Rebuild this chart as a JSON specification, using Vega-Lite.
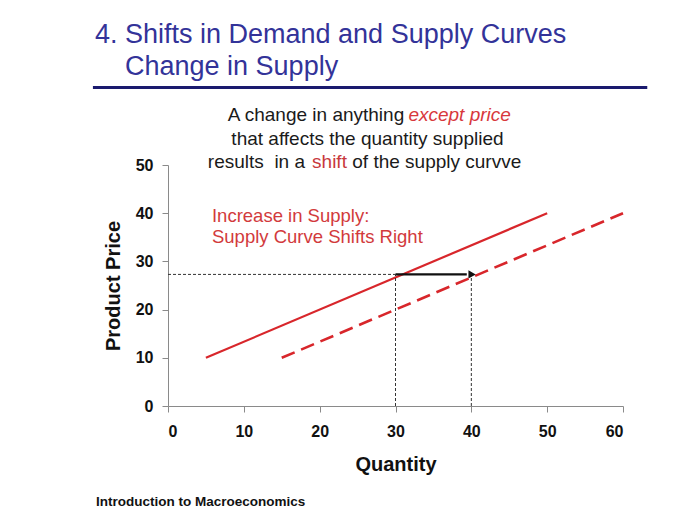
{
  "$schema": "https://vega.github.io/schema/vega-lite/v6.json",
  "autosize": {"type": "none"},
  "width": 455,
  "height": 241,
  "padding": {"left": 168, "top": 165, "right": 77, "bottom": 119},
  "background": "white",
  "config": {"view": {"stroke": null}, "font": "Liberation Sans"},
  "datasets": {
    "supply": [
      {"q": 5, "p": 10, "curve": "S1"},
      {"q": 50, "p": 40, "curve": "S1"},
      {"q": 15, "p": 10, "curve": "S2"},
      {"q": 60, "p": 40, "curve": "S2"}
    ],
    "guides": [
      {"x": 0, "x2": 30, "y": 27.3, "y2": 27.3},
      {"x": 30, "x2": 30, "y": 0, "y2": 27.3},
      {"x": 40, "x2": 40, "y": 0, "y2": 27.3}
    ],
    "arrow": [{"x": 30, "x2": 39.4, "y": 27.3}],
    "arrowhead": [{"x": 40.1, "y": 27.3}],
    "underline": [{"x": -9.9, "x2": 63.2, "y": 66.1}],
    "titles": [
      {"x": -9.63, "y": 75.25, "text": "4. Shifts in Demand and Supply Curves"},
      {"x": -5.67, "y": 68.67, "text": "Change in Supply"}
    ],
    "notesRight": [
      {"x": 31.15, "y": 59.1, "text": "A change in anything"},
      {"x": 18.07, "y": 49.4, "text": "results \u00a0in a"}
    ],
    "notesItalic": [
      {"x": 31.7, "y": 59.1, "text": "except price"}
    ],
    "notesRed": [
      {"x": 19.0, "y": 49.4, "text": "shift"}
    ],
    "notesLeft": [
      {"x": 24.3, "y": 49.4, "text": "of the supply curvve"}
    ],
    "notesCenter": [
      {"x": 26.3, "y": 54.1, "text": "that affects the quantity supplied"}
    ],
    "redtext": [
      {"x": 5.8, "y": 38.2, "text": "Increase in Supply:"},
      {"x": 5.8, "y": 33.75, "text": "Supply Curve Shifts Right"}
    ],
    "footer": [{"x": -9.5, "y": -20.7, "text": "Introduction to Macroeconomics"}]
  },
  "layer": [
    {
      "data": {"name": "supply"},
      "transform": [{"filter": "datum.curve === 'S1'"}],
      "mark": {"type": "line", "color": "#d8262b", "strokeWidth": 2.2},
      "encoding": {
        "x": {
          "field": "q", "type": "quantitative",
          "scale": {"domain": [0, 60], "nice": false},
          "axis": {
            "title": "Quantity", "values": [0, 10, 20, 30, 40, 50, 60],
            "grid": false, "domainColor": "#8a8a8a", "tickColor": "#8a8a8a",
            "tickSize": 6, "labelPadding": 11, "labelFontSize": 16, "labelFontWeight": "bold",
            "labelColor": "#111", "titleFontSize": 20, "titleFontWeight": "bold",
            "titleColor": "#111", "titlePadding": 15, "labelFont": "Liberation Sans", "titleFont": "Liberation Sans"
          }
        },
        "y": {
          "field": "p", "type": "quantitative",
          "scale": {"domain": [0, 50], "nice": false},
          "axis": {
            "title": "Product Price", "values": [0, 10, 20, 30, 40, 50],
            "grid": false, "domainColor": "#8a8a8a", "tickColor": "#8a8a8a",
            "tickSize": 6, "labelPadding": 9, "labelFontSize": 16, "labelFontWeight": "bold",
            "labelColor": "#111", "titleFontSize": 20, "titleFontWeight": "bold",
            "titleColor": "#111", "titlePadding": 12, "labelFont": "Liberation Sans", "titleFont": "Liberation Sans"
          }
        }
      }
    },
    {
      "data": {"name": "supply"},
      "transform": [{"filter": "datum.curve === 'S2'"}],
      "mark": {"type": "line", "color": "#d8262b", "strokeWidth": 2.6, "strokeDash": [14, 7]},
      "encoding": {
        "x": {"field": "q", "type": "quantitative"},
        "y": {"field": "p", "type": "quantitative"}
      }
    },
    {
      "data": {"name": "guides"},
      "mark": {"type": "rule", "color": "#333", "strokeWidth": 1, "strokeDash": [3, 2]},
      "encoding": {
        "x": {"field": "x", "type": "quantitative"},
        "x2": {"field": "x2"},
        "y": {"field": "y", "type": "quantitative"},
        "y2": {"field": "y2"}
      }
    },
    {
      "data": {"name": "arrow"},
      "mark": {"type": "rule", "color": "#111", "strokeWidth": 2.2},
      "encoding": {
        "x": {"field": "x", "type": "quantitative"},
        "x2": {"field": "x2"},
        "y": {"field": "y", "type": "quantitative"}
      }
    },
    {
      "data": {"name": "arrowhead"},
      "mark": {"type": "point", "shape": "triangle-right", "filled": true, "color": "#111", "size": 70, "opacity": 1},
      "encoding": {
        "x": {"field": "x", "type": "quantitative"},
        "y": {"field": "y", "type": "quantitative"}
      }
    },
    {
      "data": {"name": "underline"},
      "mark": {"type": "rule", "color": "#1a1a6e", "strokeWidth": 3},
      "encoding": {
        "x": {"field": "x", "type": "quantitative"},
        "x2": {"field": "x2"},
        "y": {"field": "y", "type": "quantitative"}
      }
    },
    {
      "data": {"name": "titles"},
      "mark": {"type": "text", "fontSize": 27, "baseline": "alphabetic", "align": "left", "color": "#333399", "font": "Liberation Sans"},
      "encoding": {
        "x": {"field": "x", "type": "quantitative"},
        "y": {"field": "y", "type": "quantitative"},
        "text": {"field": "text"}
      }
    },
    {
      "data": {"name": "notesRight"},
      "mark": {"type": "text", "fontSize": 19, "baseline": "alphabetic", "align": "right", "font": "Liberation Sans", "color": "#1a1a1a"},
      "encoding": {
        "x": {"field": "x", "type": "quantitative"},
        "y": {"field": "y", "type": "quantitative"},
        "text": {"field": "text"}
      }
    },
    {
      "data": {"name": "notesCenter"},
      "mark": {"type": "text", "fontSize": 19, "baseline": "alphabetic", "align": "center", "font": "Liberation Sans", "color": "#1a1a1a"},
      "encoding": {
        "x": {"field": "x", "type": "quantitative"},
        "y": {"field": "y", "type": "quantitative"},
        "text": {"field": "text"}
      }
    },
    {
      "data": {"name": "notesLeft"},
      "mark": {"type": "text", "fontSize": 19, "baseline": "alphabetic", "align": "left", "font": "Liberation Sans", "color": "#1a1a1a"},
      "encoding": {
        "x": {"field": "x", "type": "quantitative"},
        "y": {"field": "y", "type": "quantitative"},
        "text": {"field": "text"}
      }
    },
    {
      "data": {"name": "notesItalic"},
      "mark": {"type": "text", "fontSize": 19, "fontStyle": "italic", "baseline": "alphabetic", "align": "left", "font": "Liberation Sans", "color": "#d8383c"},
      "encoding": {
        "x": {"field": "x", "type": "quantitative"},
        "y": {"field": "y", "type": "quantitative"},
        "text": {"field": "text"}
      }
    },
    {
      "data": {"name": "notesRed"},
      "mark": {"type": "text", "fontSize": 19, "baseline": "alphabetic", "align": "left", "font": "Liberation Sans", "color": "#c8383c"},
      "encoding": {
        "x": {"field": "x", "type": "quantitative"},
        "y": {"field": "y", "type": "quantitative"},
        "text": {"field": "text"}
      }
    },
    {
      "data": {"name": "redtext"},
      "mark": {"type": "text", "fontSize": 18.5, "baseline": "alphabetic", "align": "left", "color": "#d23a3c", "font": "Liberation Sans"},
      "encoding": {
        "x": {"field": "x", "type": "quantitative"},
        "y": {"field": "y", "type": "quantitative"},
        "text": {"field": "text"}
      }
    },
    {
      "data": {"name": "footer"},
      "mark": {"type": "text", "fontSize": 13.5, "fontWeight": "bold", "baseline": "alphabetic", "align": "left", "color": "#111", "font": "Liberation Sans"},
      "encoding": {
        "x": {"field": "x", "type": "quantitative"},
        "y": {"field": "y", "type": "quantitative"},
        "text": {"field": "text"}
      }
    }
  ]
}
